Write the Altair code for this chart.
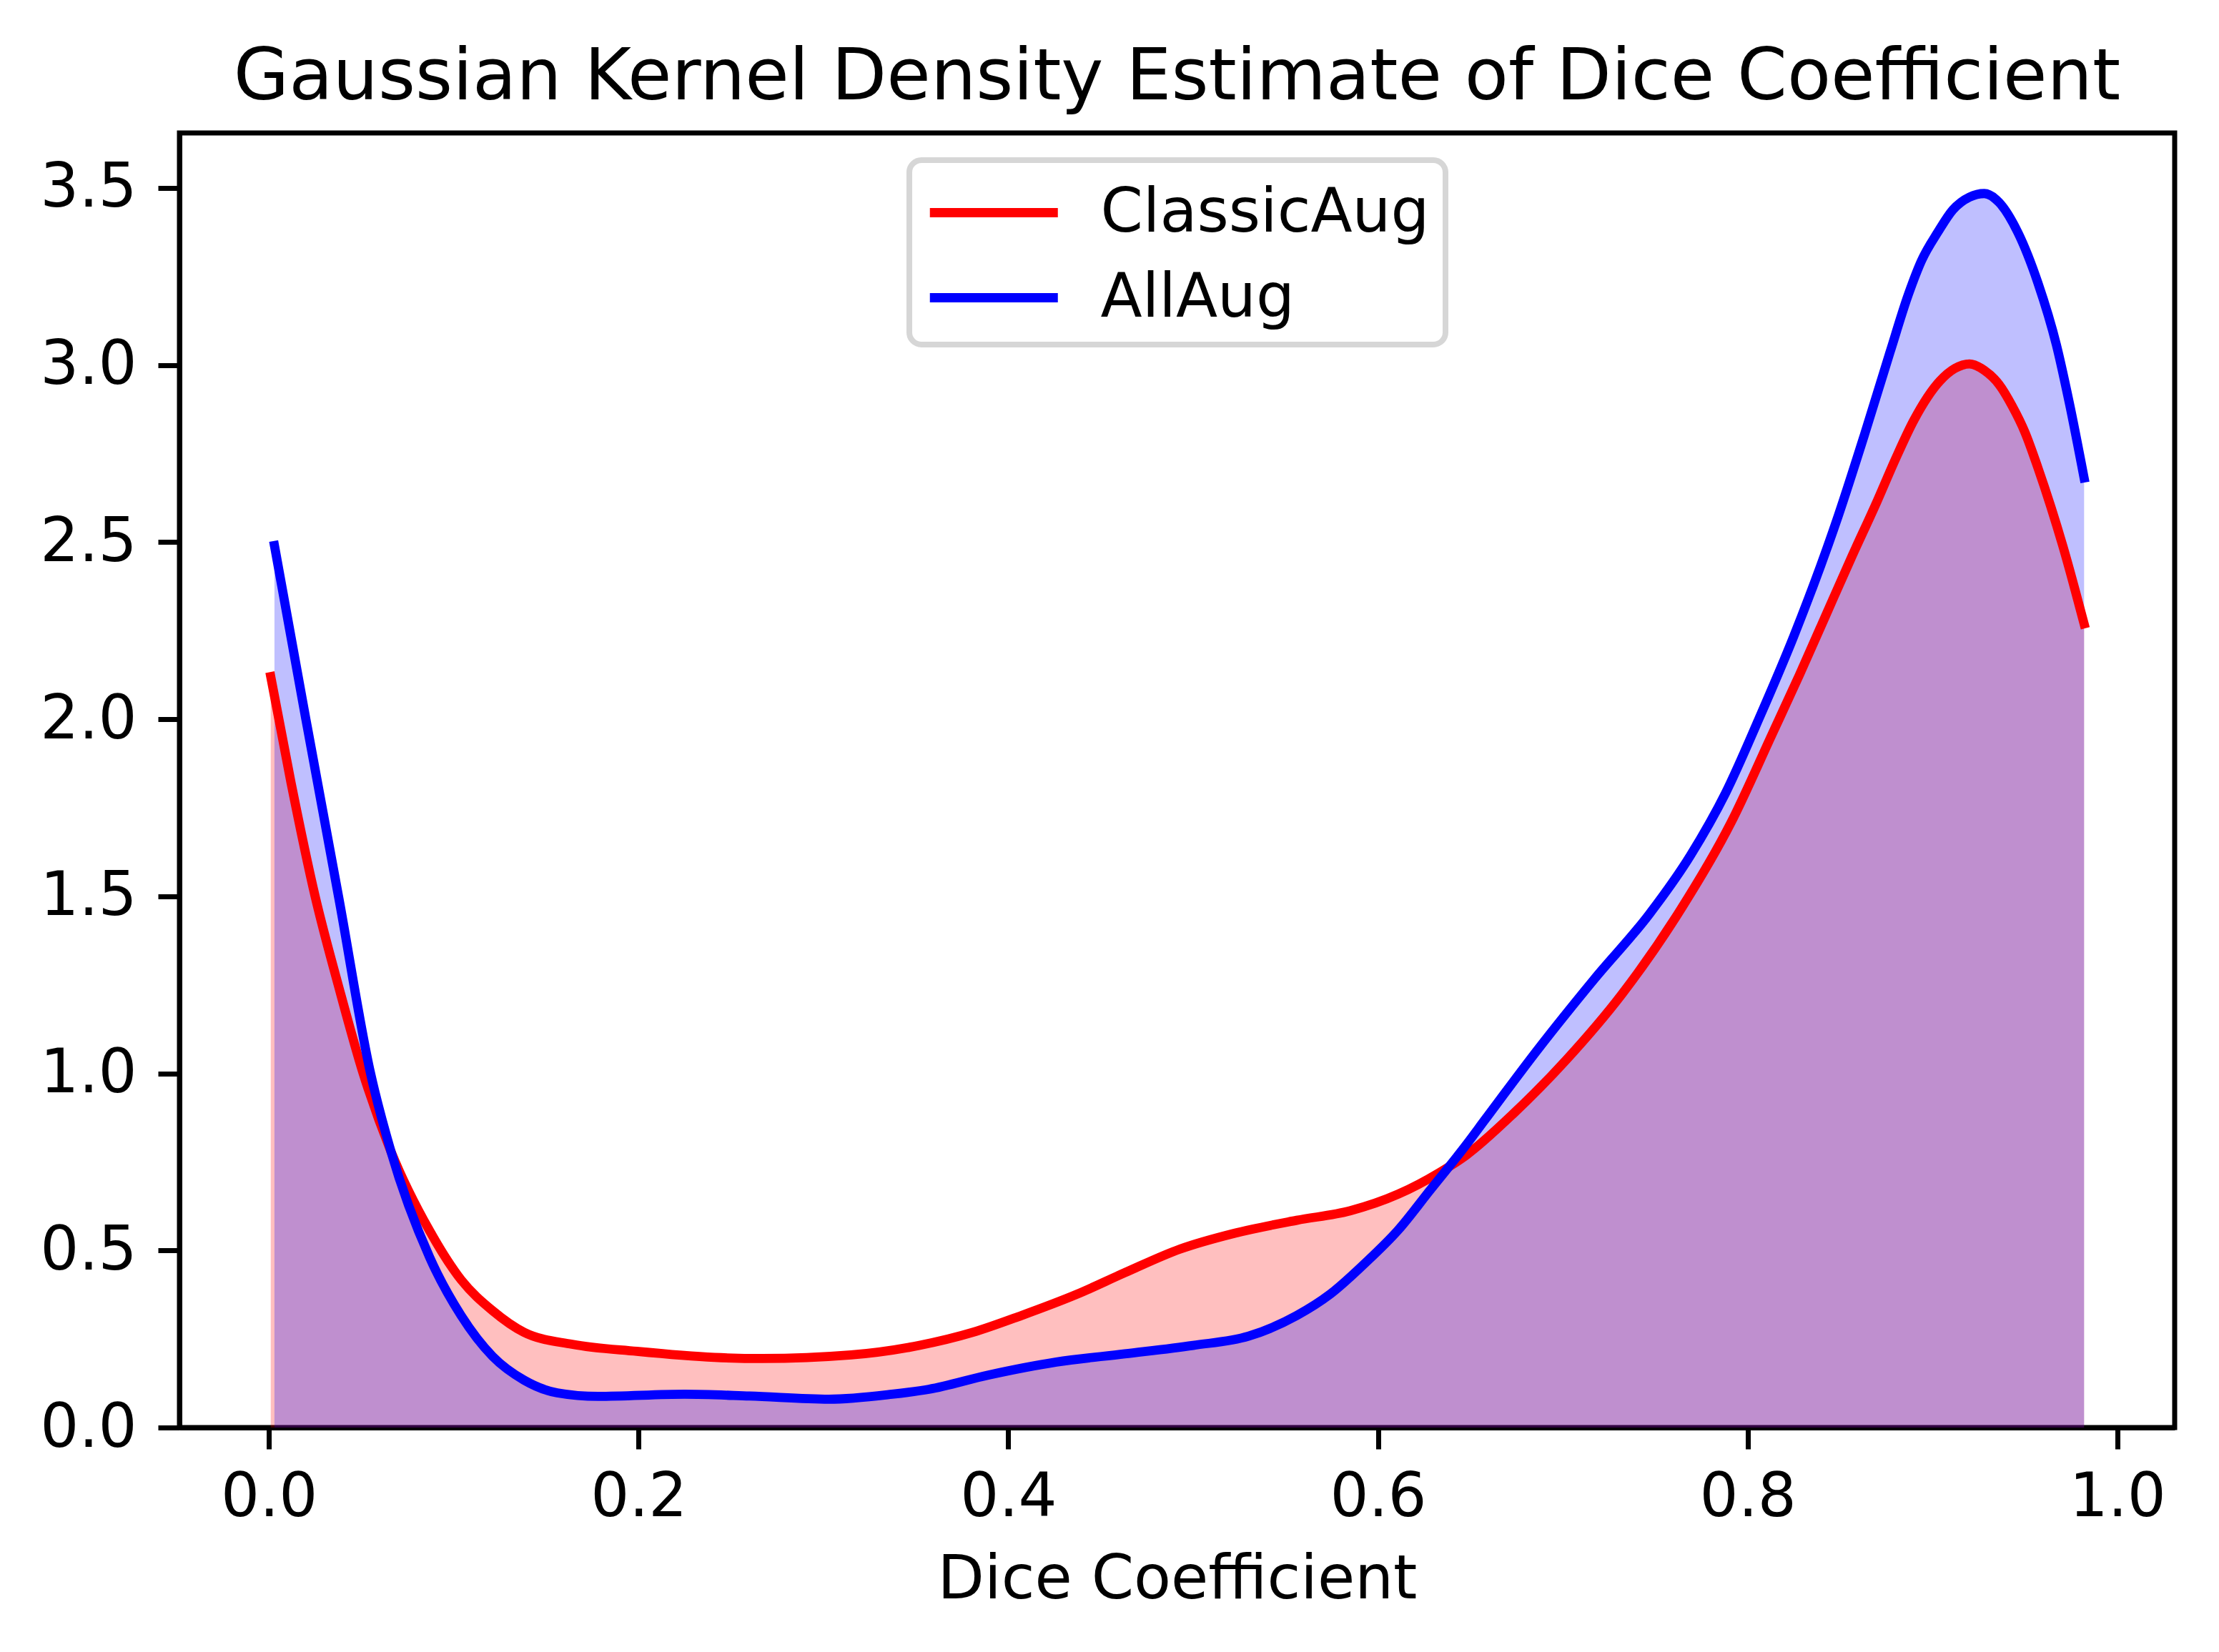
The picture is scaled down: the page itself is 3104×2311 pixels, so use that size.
import altair as alt
import pandas as pd

# ClassicAug (red) density curve
red_x = [0.001, 0.012, 0.025, 0.038, 0.051, 0.066, 0.087, 0.104, 0.121, 0.138,
         0.164, 0.199, 0.241, 0.267, 0.315, 0.352, 0.381, 0.407, 0.437, 0.463,
         0.493, 0.522, 0.556, 0.585, 0.611, 0.633, 0.648, 0.673, 0.702, 0.732,
         0.761, 0.791, 0.813, 0.828, 0.842, 0.856, 0.870, 0.880, 0.890, 0.904,
         0.912, 0.920, 0.928, 0.936, 0.943, 0.950, 0.957, 0.964, 0.971, 0.982]
red_y = [2.12, 1.82, 1.50, 1.24, 1.00, 0.78, 0.555, 0.417, 0.33, 0.269,
         0.235, 0.215, 0.198, 0.195, 0.205, 0.232, 0.269, 0.316, 0.376, 0.437,
         0.504, 0.548, 0.585, 0.612, 0.659, 0.719, 0.770, 0.885, 1.039, 1.224,
         1.44, 1.708, 1.955, 2.125, 2.29, 2.455, 2.615, 2.735, 2.845, 2.955,
         2.99, 3.003, 2.985, 2.945, 2.885, 2.81, 2.71, 2.60, 2.48, 2.269]

# AllAug (blue) density curve
blue_x = [0.003, 0.020, 0.038, 0.055, 0.066, 0.087, 0.104, 0.121, 0.138, 0.156,
          0.178, 0.225, 0.260, 0.303, 0.337, 0.357, 0.389, 0.426, 0.463, 0.500,
          0.530, 0.556, 0.574, 0.593, 0.611, 0.628, 0.648, 0.658, 0.687, 0.717,
          0.747, 0.769, 0.788, 0.806, 0.825, 0.849, 0.863, 0.877, 0.887,
          0.894, 0.903, 0.911, 0.920, 0.928, 0.936, 0.946, 0.957, 0.967, 0.974,
          0.982]
blue_y = [2.49, 2.00, 1.49, 1.00, 0.78, 0.48, 0.316, 0.201, 0.134, 0.098,
          0.088, 0.094, 0.089, 0.080, 0.094, 0.108, 0.148, 0.185, 0.208, 0.232,
          0.258, 0.316, 0.376, 0.464, 0.558, 0.669, 0.80, 0.87, 1.071, 1.266,
          1.451, 1.615, 1.791, 2.00, 2.235, 2.574, 2.80, 3.036, 3.20,
          3.294, 3.376, 3.438, 3.474, 3.484, 3.459, 3.376, 3.232, 3.057, 2.893,
          2.681]

series_names = ["ClassicAug", "AllAug"]
series_colors = ["red", "blue"]
x_ticks = [0.0, 0.2, 0.4, 0.6, 0.8, 1.0]
y_ticks = [0.0, 0.5, 1.0, 1.5, 2.0, 2.5, 3.0, 3.5]

df = pd.concat([
    pd.DataFrame({"series": "ClassicAug", "x": red_x, "y": red_y}),
    pd.DataFrame({"series": "AllAug", "x": blue_x, "y": blue_y}),
], ignore_index=True)

X = alt.X("x:Q",
          scale=alt.Scale(domain=[-0.0484, 1.031], nice=False, zero=False),
          axis=alt.Axis(values=x_ticks, format=".1f", title="Dice Coefficient",
                        titleY=238, titleBaseline="alphabetic", labelPadding=26))
Y = alt.Y("y:Q",
          scale=alt.Scale(domain=[0, 3.655], nice=False),
          axis=alt.Axis(values=y_ticks, format=".1f", title=None, labelPadding=30))

base = alt.Chart(df)

area_red = base.transform_filter(alt.datum.series == "ClassicAug").mark_area(
    fill="red", fillOpacity=0.25, interpolate="monotone").encode(x=X, y=Y)
area_blue = base.transform_filter(alt.datum.series == "AllAug").mark_area(
    fill="blue", fillOpacity=0.25, interpolate="monotone").encode(x=X, y=Y)

color = alt.Color("series:N",
                  scale=alt.Scale(domain=series_names, range=series_colors),
                  legend=alt.Legend(title=None, orient="none", legendX=1021, legendY=38,
                                    symbolType="M-1,0H3", symbolSize=8010,
                                    symbolStrokeWidth=12.8,
                                    labelFont="DejaVu Sans", labelFontSize=85,
                                    labelColor="black", labelOffset=142.5,
                                    labelLimit=2000, rowPadding=24, padding=22,
                                    strokeColor="#d6d6d6", fillColor="white",
                                    cornerRadius=17))

line_red = base.transform_filter(alt.datum.series == "ClassicAug").mark_line(
    strokeWidth=12.8, interpolate="monotone", strokeCap="square", strokeJoin="round"
).encode(x=X, y=Y, color=color)
line_blue = base.transform_filter(alt.datum.series == "AllAug").mark_line(
    strokeWidth=12.8, interpolate="monotone", strokeCap="square", strokeJoin="round"
).encode(x=X, y=Y, color=color)

chart = alt.layer(area_red, area_blue, line_red, line_blue).properties(
    width=2791,
    height=1811,
    autosize=alt.AutoSizeParams(type="none"),
    padding={"left": 243, "top": 178, "right": 50, "bottom": 300},
    title=alt.TitleParams(text="Gaussian Kernel Density Estimate of Dice Coefficient",
                          font="DejaVu Sans", fontSize=100, fontWeight="normal",
                          color="black", anchor="middle", frame="group",
                          baseline="alphabetic", offset=49, dy=102),
).configure_view(
    stroke="black", strokeWidth=7
).configure_axis(
    grid=False, domainColor="black", domainWidth=7, tickColor="black",
    tickWidth=7, tickSize=30, labelFont="DejaVu Sans", labelFontSize=85,
    labelColor="black", titleFont="DejaVu Sans", titleFontSize=85,
    titleFontWeight="normal", titleColor="black", zindex=1
).configure_legend(
    strokeWidth=8
)

chart.save("out.html", embed_options={"renderer": "svg", "actions": False})
